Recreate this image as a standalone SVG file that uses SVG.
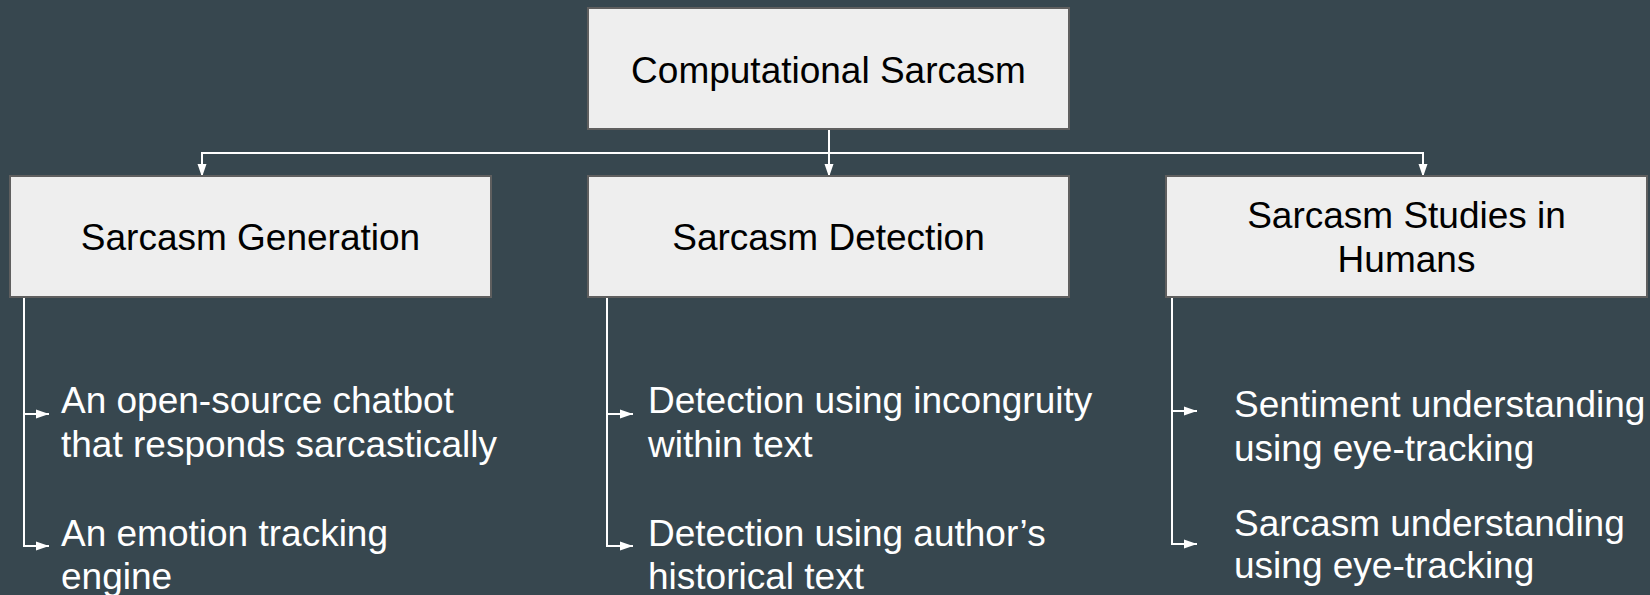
<svg xmlns="http://www.w3.org/2000/svg" width="1650" height="595" viewBox="0 0 1650 595">
  <style>
    .box { fill: #eeeeee; stroke: #5f5f5f; stroke-width: 2; }
    .title { font-family: "Liberation Sans", Arial, sans-serif; font-size: 37px; fill: #000000; text-anchor: middle; }
    .item { font-family: "Liberation Sans", Arial, sans-serif; font-size: 37px; fill: #ffffff; }
    .link { fill: none; stroke: #ffffff; stroke-width: 2; }
  </style>
  <defs>
    <marker id="arrow" markerUnits="userSpaceOnUse" markerWidth="14" markerHeight="10" refX="13" refY="5" orient="auto">
      <path d="M0,0.5 L13,5 L0,9.5 Z" fill="#ffffff"/>
    </marker>
  </defs>

  <rect x="0" y="0" width="1650" height="595" fill="#37474f"/>

  <!-- connectors -->
  <g id="connectors">
    <path class="link" d="M829,130 V153 H202 V177" marker-end="url(#arrow)"/>
    <path class="link" d="M829,130 V177" marker-end="url(#arrow)"/>
    <path class="link" d="M829,130 V153 H1423 V177" marker-end="url(#arrow)"/>

    <path class="link" d="M24,298 V414 H49" marker-end="url(#arrow)"/>
    <path class="link" d="M24,298 V546 H49" marker-end="url(#arrow)"/>

    <path class="link" d="M607,298 V414 H633" marker-end="url(#arrow)"/>
    <path class="link" d="M607,298 V546 H633" marker-end="url(#arrow)"/>

    <path class="link" d="M1172,298 V411 H1197" marker-end="url(#arrow)"/>
    <path class="link" d="M1172,298 V544 H1197" marker-end="url(#arrow)"/>
  </g>

  <!-- root -->
  <g id="computational-sarcasm">
    <rect class="box" x="588" y="8" width="481" height="121"/>
    <text class="title" x="828.5" y="83">Computational Sarcasm</text>
  </g>

  <!-- branches -->
  <g id="sarcasm-generation">
    <rect class="box" x="10" y="176" width="481" height="121"/>
    <text class="title" x="250.5" y="250">Sarcasm Generation</text>
  </g>

  <g id="sarcasm-detection">
    <rect class="box" x="588" y="176" width="481" height="121"/>
    <text class="title" x="828.5" y="250">Sarcasm Detection</text>
  </g>

  <g id="sarcasm-studies">
    <rect class="box" x="1166" y="176" width="481" height="121"/>
    <text class="title" x="1406.5" y="228">Sarcasm Studies in</text>
    <text class="title" x="1406.5" y="272">Humans</text>
  </g>

  <!-- leaf items -->
  <g id="chatbot">
    <text class="item" x="61" y="413">An open-source chatbot</text>
    <text class="item" x="61" y="457">that responds sarcastically</text>
  </g>
  <g id="emotion-engine">
    <text class="item" x="61" y="546">An emotion tracking</text>
    <text class="item" x="61" y="589">engine</text>
  </g>

  <g id="incongruity">
    <text class="item" x="648" y="413">Detection using incongruity</text>
    <text class="item" x="648" y="457">within text</text>
  </g>
  <g id="historical">
    <text class="item" x="648" y="546">Detection using author’s</text>
    <text class="item" x="648" y="589">historical text</text>
  </g>

  <g id="sentiment-eye">
    <text class="item" x="1234" y="417">Sentiment understanding</text>
    <text class="item" x="1234" y="461">using eye-tracking</text>
  </g>
  <g id="sarcasm-eye">
    <text class="item" x="1234" y="536">Sarcasm understanding</text>
    <text class="item" x="1234" y="578">using eye-tracking</text>
  </g>
</svg>
